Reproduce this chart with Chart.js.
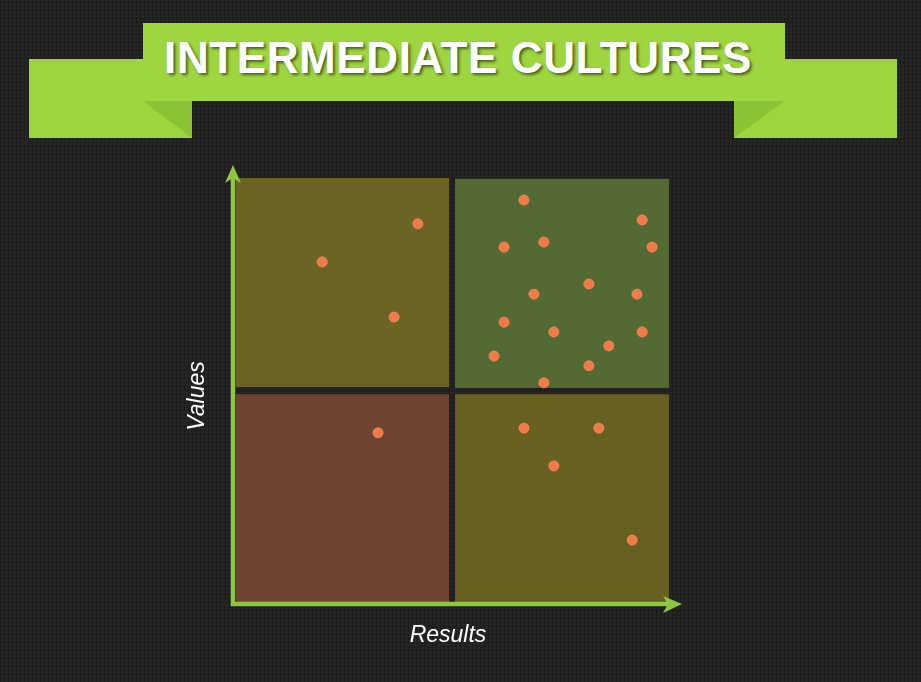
<!DOCTYPE html>
<html>
<head>
<meta charset="utf-8">
<script src="https://cdn.jsdelivr.net/npm/chart.js@4"></script>
<style>
  html, body { margin: 0; padding: 0; }
  body {
    width: 921px; height: 682px; overflow: hidden; position: relative;
    background-color: #222222;
    background-image:
      linear-gradient(rgba(255,255,255,0.025) 1px, transparent 1px),
      linear-gradient(90deg, rgba(0,0,0,0.18) 1px, transparent 1px);
    background-size: 4px 4px;
    font-family: "Liberation Sans", Arial, sans-serif;
  }
  #chart { position: absolute; left: 0; top: 0; }
  .tail { position: absolute; top: 59px; width: 163px; height: 79px; background: #9ed53e; }
  .fold { position: absolute; top: 101px; width: 50px; height: 37px; background: #8bc236; }
  #banner {
    position: absolute; left: 143px; top: 23px; width: 642px; height: 78px;
    background: #9fd63f; color: #fff; text-align: center;
    font-weight: bold; font-size: 44px; line-height: 70px; letter-spacing: 0.6px;
    text-shadow: 2px 2px 3px rgba(0,0,0,0.55);
  }
  #banner span { position: relative; left: -6px; }
</style>
</head>
<body>
<canvas id="chart" width="921" height="682"></canvas>
<div class="tail" style="left:29px"></div>
<div class="tail" style="left:734px"></div>
<div class="fold" style="left:143px; width:49px; clip-path: polygon(0 0, 100% 0, 100% 100%);"></div>
<div class="fold" style="left:734px; width:51px; clip-path: polygon(0 0, 100% 0, 0 100%);"></div>
<div id="banner"><span>INTERMEDIATE CULTURES</span></div>
<script>
// Culture map: results (x) vs values (y), 0-100
const resultsX = [42.0, 19.9, 36.5,
  66.5, 93.8, 61.9, 71.1, 96.1, 81.5, 68.8, 92.6, 61.9, 73.4, 93.8, 86.1, 59.6, 81.5, 71.1,
  32.8,
  66.5, 83.8, 73.4, 91.5];
const valuesY = [89.2, 80.2, 67.2,
  94.8, 90.1, 83.7, 84.9, 83.7, 75.0, 72.6, 72.6, 66.0, 63.7, 63.7, 60.4, 58.0, 55.7, 51.7,
  39.9,
  41.0, 41.0, 32.1, 14.6];

// quadrants as [xFrom, xTo, yFrom, yTo] in data units
const quadrants = [
  [0, 49.2, 50.7, 100],
  [50.6, 100, 50.5, 99.8],
  [0, 49.2, 0, 49.0],
  [50.6, 100, 0, 49.0]
];
const quadrantColors = ['#6b6425', '#546a33', '#6f4433', '#666021'];

const points = resultsX.map((x, i) => ({ x: x, y: valuesY[i] }));

const quadrantPlugin = {
  id: 'quadrants',
  beforeDatasetsDraw(chart) {
    const { ctx, scales: { x, y } } = chart;
    ctx.save();
    quadrants.forEach((q, i) => {
      const x0 = x.getPixelForValue(q[0]), x1 = x.getPixelForValue(q[1]);
      const y0 = y.getPixelForValue(q[3]), y1 = y.getPixelForValue(q[2]);
      ctx.fillStyle = quadrantColors[i];
      ctx.fillRect(x0, y0, x1 - x0, y1 - y0);
    });
    ctx.restore();
  },
  afterDatasetsDraw(chart) {
    const { ctx, chartArea: a } = chart;
    const ox = a.left - 3, oy = a.bottom + 2;
    const topY = a.top - 13, rightX = a.right + 13;
    ctx.save();
    ctx.strokeStyle = '#8dc63f';
    ctx.fillStyle = '#8dc63f';
    ctx.lineWidth = 4.5;
    ctx.beginPath();
    ctx.moveTo(ox, topY + 6);
    ctx.lineTo(ox, oy);
    ctx.lineTo(rightX - 6, oy);
    ctx.stroke();
    // arrow heads
    ctx.beginPath();
    ctx.moveTo(ox, topY);
    ctx.lineTo(ox + 8, topY + 18);
    ctx.lineTo(ox, topY + 13);
    ctx.lineTo(ox - 8, topY + 18);
    ctx.closePath();
    ctx.fill();
    ctx.beginPath();
    ctx.moveTo(rightX, oy);
    ctx.lineTo(rightX - 19, oy - 8);
    ctx.lineTo(rightX - 14, oy);
    ctx.lineTo(rightX - 19, oy + 9);
    ctx.closePath();
    ctx.fill();
    // axis titles
    ctx.fillStyle = '#ffffff';
    ctx.font = 'italic 23px "Liberation Sans", Arial, sans-serif';
    ctx.textAlign = 'center';
    ctx.textBaseline = 'alphabetic';
    ctx.fillText('Results', 448, 642);
    ctx.translate(204, 396);
    ctx.rotate(-Math.PI / 2);
    ctx.fillText('Values', 0, 0);
    ctx.restore();
  }
};

new Chart(document.getElementById('chart'), {
  type: 'scatter',
  data: {
    datasets: [{
      label: 'Cultures',
      data: points,
      backgroundColor: '#f07b48',
      borderColor: '#f28552',
      borderWidth: 1,
      pointRadius: 5,
      pointHoverRadius: 5
    }]
  },
  options: {
    responsive: false,
    animation: false,
    layout: { padding: { left: 236, right: 252, top: 178, bottom: 80 } },
    plugins: { legend: { display: false }, tooltip: { enabled: false } },
    scales: {
      x: { display: false, min: 0, max: 100 },
      y: { display: false, min: 0, max: 100 }
    }
  },
  plugins: [quadrantPlugin]
});
</script>
</body>
</html>
